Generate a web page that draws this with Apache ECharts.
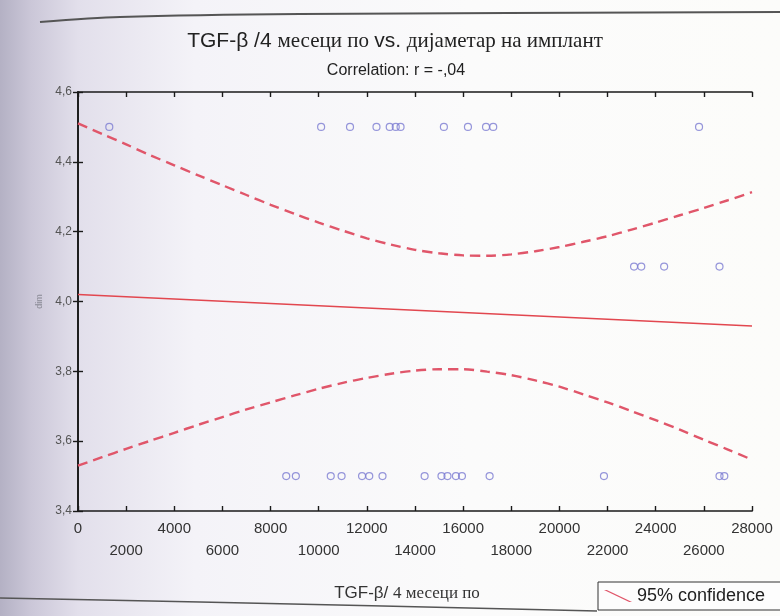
<!DOCTYPE html>
<html>
<head>
<meta charset="utf-8">
<script src="https://cdn.jsdelivr.net/npm/echarts@6/dist/echarts.min.js"></script>
<style>
html,body{margin:0;padding:0;background:#fff;}
#c{width:780px;height:616px;}
</style>
</head>
<body>
<div id="c"></div>
<script>
// ---- data ----
const tgfValues = [1300, 10100, 11300, 12400, 12950, 13200, 13400, 15200, 16200, 16950, 17250, 25800,
                   23100, 23400, 24350, 26650,
                   8650, 9050, 10500, 10950, 11800, 12100, 12650, 14400, 15100, 15350, 15700, 15950, 17100, 21850, 26650, 26850];
const dimValues = [4.5, 4.5, 4.5, 4.5, 4.5, 4.5, 4.5, 4.5, 4.5, 4.5, 4.5, 4.5,
                   4.1, 4.1, 4.1, 4.1,
                   3.5, 3.5, 3.5, 3.5, 3.5, 3.5, 3.5, 3.5, 3.5, 3.5, 3.5, 3.5, 3.5, 3.5, 3.5, 3.5];
const fitX = [0, 28000];
const fitY = [4.02, 3.93];
const bandX = [0, 1000, 2000, 3000, 4000, 5000, 6000, 7000, 8000, 9000, 10000, 11000, 12000, 13000, 14000,
               15000, 16000, 17000, 18000, 19000, 20000, 21000, 22000, 23000, 24000, 25000, 26000, 27000, 28000];
const bandUpper = [4.510, 4.480, 4.450, 4.419, 4.390, 4.361, 4.333, 4.305, 4.277, 4.251, 4.226, 4.203, 4.181, 4.163, 4.148,
                   4.138, 4.132, 4.131, 4.135, 4.144, 4.156, 4.171, 4.187, 4.206, 4.226, 4.247, 4.268, 4.290, 4.313];
const bandLower = [3.530, 3.554, 3.578, 3.601, 3.624, 3.647, 3.669, 3.691, 3.711, 3.731, 3.750, 3.767, 3.781, 3.793, 3.802,
                   3.806, 3.806, 3.799, 3.789, 3.774, 3.756, 3.734, 3.711, 3.686, 3.660, 3.633, 3.604, 3.576, 3.547];
const xTicks = {min: 0, max: 28000, interval: 2000};
const yTicks = {min: 3.4, max: 4.6, interval: 0.2};
const titleText = ['TGF-β /4 ', 'месеци по ', 'vs. ', 'дијаметар на имплант'];
const subtitleText = 'Correlation: r = -,04';
const xAxisTitle = ['TGF-β/ ', '4 месеци по'];
const yAxisTitle = 'dim';
const legendLabel = '95% confidence';

const pts = tgfValues.map((v, i) => [v, dimValues[i]]);
const fit = fitX.map((v, i) => [v, fitY[i]]);
const up = bandX.map((v, i) => [v, bandUpper[i]]);
const lo = bandX.map((v, i) => [v, bandLower[i]]);

const sans = '"Liberation Sans", Arial, sans-serif';
const serif = '"Liberation Serif", "DejaVu Serif", serif';

const chart = echarts.init(document.getElementById('c'), null, {renderer: 'canvas'});
const axisLine = {show: true, lineStyle: {color: '#1a1a1a', width: 1.7}};
const axisTick = {show: true, inside: true, length: 5, lineStyle: {color: '#1a1a1a', width: 1.4}};

chart.setOption({
  backgroundColor: {
    type: 'linear', x: 0, y: 0, x2: 1, y2: 0,
    colorStops: [
      {offset: 0, color: '#b4b1c4'},
      {offset: 0.04, color: '#cbc7d8'},
      {offset: 0.1, color: '#e2dfeb'},
      {offset: 0.25, color: '#f4f3f8'},
      {offset: 0.6, color: '#fbfbfb'},
      {offset: 1, color: '#fcfcfa'}
    ]
  },
  animation: false,
  title: [{
    text: '{a|' + titleText[0] + '}{b|' + titleText[1] + '}{a|' + titleText[2] + '}{b|' + titleText[3] + '}',
    left: 390, top: 26, textAlign: 'center',
    textStyle: {
      fontWeight: 'normal',
      rich: {
        a: {fontFamily: sans, fontSize: 21, fontWeight: 'normal', color: '#222'},
        b: {fontFamily: serif, fontSize: 21, fontWeight: 'normal', color: '#222'}
      }
    }
  }, {
    text: subtitleText,
    left: 391, top: 58, textAlign: 'center',
    textStyle: {fontFamily: sans, fontSize: 16, fontWeight: 'normal', color: '#222'}
  }, {
    text: '{a|' + xAxisTitle[0] + '}{b|' + xAxisTitle[1] + '}',
    left: 402, top: 580, textAlign: 'center',
    textStyle: {
      fontWeight: 'normal',
      rich: {
        a: {fontFamily: sans, fontSize: 17, fontWeight: 'normal', color: '#333'},
        b: {fontFamily: serif, fontSize: 17, fontWeight: 'normal', color: '#333'}
      }
    }
  }],
  legend: {
    left: 598, top: 582,
    data: [{name: legendLabel, icon: 'path://M0,0 L3,0 L30,13 L27,13 Z'}],
    itemWidth: 28, itemHeight: 13, itemGap: 4,
    borderColor: '#333', borderWidth: 1, borderRadius: 0,
    padding: [5, 40, 5, 6],
    backgroundColor: '#fdfdfd',
    textStyle: {fontFamily: sans, fontSize: 18, color: '#222'}
  },
  grid: {left: 78, right: 28, top: 92, bottom: 105},
  xAxis: [{
    type: 'value', min: xTicks.min, max: xTicks.max, interval: xTicks.interval,
    axisLine: axisLine, axisTick: axisTick, splitLine: {show: false},
    axisLabel: {
      fontFamily: sans, fontSize: 15, color: '#333', margin: 7, lineHeight: 22,
      formatter: function (v) { return (Math.round(v / 2000) % 2 === 1) ? '\n' + v : String(v); }
    }
  }, {
    type: 'value', position: 'top', min: xTicks.min, max: xTicks.max, interval: xTicks.interval,
    axisLine: axisLine, axisTick: axisTick, axisLabel: {show: false}, splitLine: {show: false}
  }],
  yAxis: [{
    type: 'value', min: yTicks.min, max: yTicks.max, interval: yTicks.interval,
    name: yAxisTitle, nameLocation: 'middle', nameGap: 34, nameRotate: 90,
    nameTextStyle: {fontFamily: sans, fontSize: 9, color: '#8a8a95'},
    axisLine: axisLine, axisTick: axisTick, splitLine: {show: false},
    axisLabel: {
      fontFamily: sans, fontSize: 12, color: '#555', margin: 6,
      formatter: function (v) { return v.toFixed(1).replace('.', ','); }
    }
  }, {
    type: 'value', position: 'right', min: yTicks.min, max: yTicks.max, interval: yTicks.interval,
    axisLine: axisLine, axisTick: axisTick, axisLabel: {show: false}, splitLine: {show: false}
  }],
  series: [{
    name: 'points', type: 'scatter', data: pts, symbol: 'circle', symbolSize: 7,
    itemStyle: {color: 'rgba(0,0,0,0)', borderColor: '#7c7cd2', borderWidth: 1.2},
    z: 5
  }, {
    name: 'fit', type: 'line', data: fit, showSymbol: false, symbol: 'none',
    lineStyle: {color: '#e2474f', width: 1.6}, z: 3
  }, {
    name: legendLabel, type: 'line', data: up, smooth: 0.3, showSymbol: false, symbol: 'none',
    itemStyle: {color: '#e0566a'},
    lineStyle: {color: '#e0566a', width: 2.4, type: [10, 6]}, z: 3
  }, {
    name: legendLabel, type: 'line', data: lo, smooth: 0.3, showSymbol: false, symbol: 'none',
    itemStyle: {color: '#e0566a'},
    lineStyle: {color: '#e0566a', width: 2.4, type: [10, 6]}, z: 3
  }],
  graphic: [{
    type: 'polyline', silent: true,
    shape: {points: [[40, 22], [120, 17], [300, 14], [780, 12]], smooth: 0.3},
    style: {stroke: '#555', lineWidth: 2, fill: null}
  }, {
    type: 'polyline', silent: true,
    shape: {points: [[0, 598], [200, 602], [597, 611]], smooth: 0.3},
    style: {stroke: '#555', lineWidth: 1.5, fill: null}
  }]
});
</script>
</body>
</html>
